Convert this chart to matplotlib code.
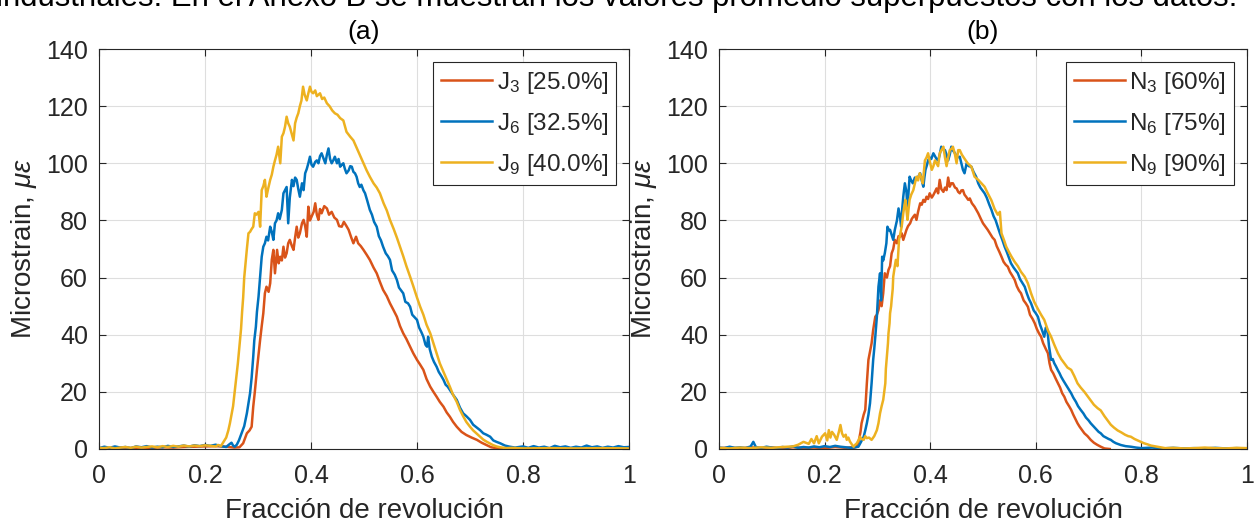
import matplotlib
matplotlib.use('Agg')
import matplotlib.pyplot as plt
from matplotlib.ticker import MultipleLocator, FuncFormatter

plt.rcParams['font.family'] = ['Liberation Sans', 'DejaVu Sans']
plt.rcParams['mathtext.fontset'] = 'custom'
plt.rcParams['mathtext.rm'] = 'Liberation Sans'
plt.rcParams['mathtext.it'] = 'Liberation Sans:italic'
plt.rcParams['mathtext.bf'] = 'Liberation Sans:bold'

# ---------------- panel (a): J series ----------------
j3_f = [0, 0.02, 0.04, 0.06, 0.08, 0.10, 0.12, 0.14, 0.16, 0.18, 0.20, 0.22, 0.24, 0.255,
        0.265, 0.272, 0.279, 0.284, 0.288, 0.291, 0.294, 0.298, 0.301, 0.304, 0.307, 0.310,
        0.313, 0.316, 0.320, 0.323, 0.326, 0.329, 0.332, 0.336, 0.339, 0.342, 0.345, 0.348,
        0.351, 0.354, 0.357, 0.360, 0.364, 0.367, 0.370, 0.373, 0.376, 0.379, 0.383, 0.386,
        0.389, 0.392, 0.395, 0.398, 0.401, 0.405, 0.408, 0.411, 0.414, 0.417, 0.420, 0.425,
        0.430, 0.434, 0.439, 0.444, 0.449, 0.453, 0.458, 0.462, 0.467, 0.471, 0.476, 0.480,
        0.485, 0.489, 0.494, 0.499, 0.505, 0.511, 0.518, 0.524, 0.530, 0.536, 0.543, 0.549,
        0.556, 0.562, 0.568, 0.574, 0.580, 0.587, 0.593, 0.600, 0.606, 0.612, 0.618, 0.625,
        0.631, 0.637, 0.643, 0.650, 0.656, 0.662, 0.668, 0.675, 0.684, 0.693, 0.703, 0.713,
        0.722, 0.731, 0.740, 0.750, 0.760]
j3_v = [0.3, 0.2, 0.4, 0.3, 0.5, 0.4, 0.6, 0.5, 0.7, 0.8, 0.9, 1.0, 0.8, 0.5,
        0.6, 2.0, 5.5, 6.5, 7.8, 14.8, 20, 27.7, 33, 38.2, 43, 47.5,
        54.5, 56.8, 55, 58, 66.2, 69.7, 61.5, 69.7, 65, 67.3, 66, 70.8,
        67, 68.5, 72, 73.2, 71, 69.7, 74, 77.8, 74, 75.5, 79, 80.2,
        78, 74.3, 84.8, 80, 81.3, 83, 86, 82, 80.2, 84, 82.5, 85,
        84.2, 82, 83, 81, 80.2, 78, 77.8, 79.5, 78, 76.7, 74, 72,
        74.3, 72, 71, 69.7, 68, 66.2, 63.5, 61.5, 58.5, 55.7, 53.5, 51,
        48.5, 46.3, 43, 40.5, 38.5, 35.8, 33.5, 31.2, 29.5, 27.7, 24.5, 21.8,
        20, 18.3, 16.5, 14.8, 12.8, 11.3, 9.5, 7.8, 6, 4.9, 4, 3.2,
        2.2, 1.4, 0.6, 0.3, 0.2]

j6_f = [0, 0.01, 0.02, 0.03, 0.04, 0.05, 0.06, 0.07, 0.08, 0.09, 0.10, 0.11, 0.12, 0.13,
        0.14, 0.15, 0.16, 0.17, 0.18, 0.19, 0.20, 0.21, 0.22, 0.23, 0.24, 0.245, 0.25, 0.253,
        0.256, 0.26, 0.264, 0.269, 0.274, 0.279, 0.282, 0.285, 0.288, 0.291, 0.293, 0.296,
        0.298, 0.301, 0.304, 0.307, 0.310, 0.313, 0.316, 0.319, 0.323, 0.326, 0.329, 0.332,
        0.335, 0.338, 0.341, 0.345, 0.348, 0.351, 0.354, 0.357, 0.360, 0.364, 0.367, 0.370,
        0.373, 0.376, 0.379, 0.383, 0.386, 0.389, 0.392, 0.395, 0.398, 0.401, 0.404, 0.408,
        0.411, 0.414, 0.417, 0.420, 0.424, 0.427, 0.430, 0.433, 0.436, 0.439, 0.442, 0.445,
        0.449, 0.452, 0.455, 0.458, 0.461, 0.464, 0.467, 0.471, 0.474, 0.477, 0.480, 0.483,
        0.486, 0.489, 0.492, 0.495, 0.499, 0.502, 0.506, 0.511, 0.515, 0.519, 0.524, 0.528,
        0.532, 0.536, 0.541, 0.545, 0.549, 0.553, 0.558, 0.562, 0.566, 0.570, 0.574, 0.578,
        0.583, 0.587, 0.591, 0.596, 0.600, 0.604, 0.608, 0.612, 0.616, 0.619, 0.621, 0.624,
        0.628, 0.632, 0.637, 0.641, 0.646, 0.650, 0.654, 0.658, 0.662, 0.668, 0.675, 0.681,
        0.687, 0.693, 0.700, 0.706, 0.713, 0.719, 0.725, 0.731, 0.738, 0.744, 0.750, 0.757,
        0.766, 0.775, 0.785, 0.80, 0.81, 0.82, 0.83, 0.84, 0.85, 0.86, 0.87, 0.88,
        0.89, 0.90, 0.91, 0.92, 0.93, 0.94, 0.95, 0.96, 0.97, 0.98, 0.99, 1.0]
j6_v = [0.3, 0.8, 0.4, 0.9, 0.5, 0.7, 0.3, 0.9, 0.6, 1.0, 0.5, 0.8, 0.6, 1.1,
        0.7, 0.9, 1.2, 0.8, 1.3, 1.0, 1.4, 1.1, 1.5, 1.0, 0.7, 1.5, 2.2, 1.2,
        0.8, 1.5, 3.0, 5.5, 8, 12.5, 16, 19.5, 25, 32.3, 38, 42.8,
        48, 53.3, 60.3, 67.3, 70.8, 72, 74.3, 73, 77.8, 76, 73.2, 79,
        80, 82.5, 80.5, 83.7, 89.5, 90.6, 91.7, 79, 88, 94.2, 92, 95,
        94.2, 91, 88.3, 93, 90.6, 96.5, 98, 100, 102.3, 99.5, 98.8, 100.5,
        101, 100, 102.5, 103.5, 101.5, 100, 103, 105.2, 101.5, 100, 101, 102.3,
        100, 101.5, 98.8, 99.5, 100, 98, 96.5, 97.5, 99, 98.8, 97, 96.5,
        95.3, 93, 91.7, 92.5, 90.5, 89.5, 87, 83.7, 82, 79.5, 77.8, 74.5,
        73, 70.8, 68.5, 67.5, 66.2, 62.5, 61, 59.2, 56.5, 55.5, 54.5, 51.5,
        51, 49.8, 47, 46, 45.2, 42.5, 41, 39.3, 36.5, 35.8, 39.3, 35,
        32.3, 30.5, 28.8, 27, 25.5, 24.2, 22.5, 21.8, 20.7, 19, 17.2, 14.5,
        12.5, 11.5, 10.2, 8.5, 7.5, 6.6, 5.5, 5, 4.3, 3, 2.5, 2,
        1.2, 0.8, 0.5, 0.9, 0.4, 1.0, 0.5, 0.8, 0.3, 1.1, 0.6, 0.9,
        0.4, 0.8, 0.5, 1.2, 0.6, 0.9, 0.4, 0.8, 0.5, 1.0, 0.6, 0.7]

j9_f = [0, 0.01, 0.02, 0.03, 0.04, 0.05, 0.06, 0.07, 0.08, 0.09, 0.10, 0.11, 0.12, 0.13,
        0.14, 0.15, 0.16, 0.17, 0.18, 0.19, 0.20, 0.21, 0.22, 0.225, 0.23, 0.235, 0.240, 0.244,
        0.247, 0.250, 0.253, 0.256, 0.259, 0.262, 0.265, 0.268, 0.270, 0.272, 0.274, 0.276,
        0.279, 0.282, 0.285, 0.288, 0.291, 0.294, 0.297, 0.301, 0.304, 0.307, 0.310, 0.313,
        0.316, 0.319, 0.323, 0.326, 0.329, 0.332, 0.335, 0.338, 0.342, 0.345, 0.348, 0.351,
        0.354, 0.357, 0.360, 0.364, 0.367, 0.370, 0.373, 0.376, 0.379, 0.382, 0.385, 0.388,
        0.392, 0.395, 0.398, 0.401, 0.404, 0.408, 0.411, 0.414, 0.417, 0.421, 0.425, 0.430,
        0.435, 0.440, 0.445, 0.450, 0.455, 0.461, 0.467, 0.474, 0.480, 0.486, 0.492, 0.499,
        0.505, 0.511, 0.518, 0.524, 0.530, 0.537, 0.543, 0.549, 0.556, 0.562, 0.568, 0.574,
        0.580, 0.587, 0.593, 0.600, 0.606, 0.612, 0.618, 0.625, 0.631, 0.637, 0.643, 0.650,
        0.656, 0.662, 0.668, 0.675, 0.681, 0.687, 0.693, 0.700, 0.706, 0.712, 0.719, 0.725,
        0.731, 0.737, 0.743, 0.750, 0.757, 0.769, 0.78, 0.80, 0.85, 0.90, 0.95, 1.0]
j9_v = [0.4, 0.3, 0.6, 0.2, 0.5, 0.7, 0.4, 0.8, 0.5, 0.7, 0.9, 0.6, 1.0, 0.7,
        1.1, 0.8, 1.2, 0.9, 1.2, 1.0, 1.3, 1.1, 0.9, 1.4, 1.0, 2.5, 4, 6.5,
        9, 12, 15, 20, 25, 30, 36, 42, 48, 53, 60, 64,
        70, 75.5, 76, 77, 77.8, 82.5, 82, 83, 77.8, 90.6, 92, 94.2,
        88.3, 91, 94.2, 96, 98.8, 101, 103, 105.8, 100, 109.3, 110.5, 112.8,
        116.3, 114, 112.8, 110, 108, 114, 116, 117.5, 120, 122, 126.8, 124,
        122, 124.5, 126.8, 125, 124.5, 125.5, 123.5, 124, 124.5, 122.5, 123, 121,
        120, 118.5, 117.5, 117, 115.8, 115, 111, 109.3, 108, 105.5, 103, 100,
        97.5, 95.3, 93, 91.5, 89.5, 86, 83.5, 80.2, 77, 74, 70.8, 67.5,
        64, 60.3, 57, 53, 49.8, 47, 43.5, 40.5, 37, 33.5, 30, 27,
        24.5, 21.8, 19, 16.5, 13.7, 11.5, 9.5, 7.8, 6.5, 5.5, 4.3, 3.3,
        2.6, 2, 1.4, 0.9, 0.6, 0.3, 0.4, 0.2, 0.3, 0.2, 0.3, 0.2]

# ---------------- panel (b): N series ----------------
n3_f = [0, 0.02, 0.04, 0.06, 0.08, 0.10, 0.12, 0.14, 0.16, 0.18, 0.20, 0.22, 0.24, 0.25,
        0.255, 0.261, 0.265, 0.268, 0.270, 0.274, 0.277, 0.280, 0.283, 0.286, 0.289, 0.292,
        0.296, 0.299, 0.302, 0.305, 0.308, 0.311, 0.314, 0.318, 0.321, 0.324, 0.327, 0.330,
        0.333, 0.337, 0.340, 0.343, 0.346, 0.349, 0.352, 0.355, 0.358, 0.362, 0.365, 0.368,
        0.371, 0.374, 0.377, 0.381, 0.384, 0.387, 0.390, 0.393, 0.396, 0.399, 0.403, 0.406,
        0.409, 0.412, 0.415, 0.418, 0.421, 0.425, 0.428, 0.431, 0.434, 0.437, 0.440, 0.443,
        0.447, 0.450, 0.453, 0.456, 0.459, 0.462, 0.465, 0.468, 0.472, 0.475, 0.479, 0.484,
        0.488, 0.491, 0.496, 0.500, 0.504, 0.509, 0.513, 0.518, 0.522, 0.526, 0.531, 0.535,
        0.539, 0.543, 0.547, 0.551, 0.556, 0.560, 0.564, 0.568, 0.572, 0.577, 0.581, 0.585,
        0.589, 0.594, 0.598, 0.602, 0.606, 0.610, 0.614, 0.619, 0.623, 0.626, 0.629, 0.633,
        0.638, 0.642, 0.646, 0.650, 0.654, 0.658, 0.663, 0.667, 0.671, 0.675, 0.679, 0.683,
        0.688, 0.692, 0.698, 0.704, 0.710, 0.716, 0.723, 0.730, 0.740]
n3_v = [0.3, 0.5, 0.2, 0.6, 0.3, 0.5, 0.2, 0.6, 0.4, 0.5, 0.3, 0.7, 0.4, 0.6,
        0.4, 0.8, 3, 6, 9, 12, 13.7, 23, 31.2, 34, 37, 41.7,
        46.3, 47, 48.6, 52, 50, 54.5, 61.5, 60, 62.7, 64, 68.5, 70,
        73.2, 72, 74.5, 74.3, 75.5, 73.2, 75, 76.7, 78, 79, 80.5, 81.3,
        82, 80.2, 83, 86, 85.5, 87.2, 86.5, 88.3, 87.5, 89.5, 88, 88.9,
        90, 91.2, 89.5, 94.2, 91, 90, 91.5, 90.6, 95, 91.8, 93, 93,
        91.5, 91.2, 90, 89.5, 90.5, 90.6, 89, 88.3, 87.2, 87.7, 86, 84.8,
        83.5, 82.5, 80.5, 79, 78, 76.7, 75.5, 74, 73.2, 71, 69, 67.3,
        65.5, 64.5, 63.8, 62, 60.5, 59.2, 57, 55.5, 54.5, 52, 51, 49.8,
        47, 45.5, 44, 42, 40.5, 39.3, 37, 35, 33.5, 30, 27.7, 26.5,
        24.5, 23, 21.5, 19.5, 18.3, 16.5, 15, 13.7, 12, 10.5, 9, 7.8,
        6.5, 5.5, 4.5, 3.2, 2.2, 1.5, 0.8, 0.2, 0]

n6_f = [0, 0.01, 0.02, 0.03, 0.04, 0.05, 0.06, 0.065, 0.07, 0.08, 0.09, 0.10, 0.11, 0.12,
        0.13, 0.14, 0.15, 0.16, 0.17, 0.18, 0.19, 0.20, 0.21, 0.22, 0.23, 0.24, 0.25, 0.258,
        0.264, 0.269, 0.274, 0.277, 0.280, 0.283, 0.286, 0.289, 0.292, 0.294, 0.296, 0.299,
        0.302, 0.305, 0.307, 0.309, 0.311, 0.314, 0.317, 0.319, 0.322, 0.324, 0.327, 0.330,
        0.333, 0.337, 0.340, 0.343, 0.345, 0.347, 0.349, 0.352, 0.355, 0.357, 0.359, 0.361,
        0.364, 0.367, 0.371, 0.374, 0.378, 0.381, 0.384, 0.387, 0.389, 0.391, 0.394, 0.396,
        0.399, 0.402, 0.406, 0.409, 0.412, 0.415, 0.418, 0.421, 0.424, 0.428, 0.431, 0.434,
        0.437, 0.440, 0.443, 0.447, 0.451, 0.456, 0.459, 0.462, 0.465, 0.469, 0.473, 0.478,
        0.482, 0.487, 0.491, 0.495, 0.499, 0.503, 0.507, 0.512, 0.516, 0.520, 0.524, 0.528,
        0.532, 0.537, 0.541, 0.545, 0.549, 0.553, 0.558, 0.562, 0.566, 0.570, 0.575, 0.579,
        0.583, 0.587, 0.591, 0.596, 0.600, 0.604, 0.608, 0.612, 0.616, 0.619, 0.622, 0.625,
        0.629, 0.632, 0.635, 0.638, 0.642, 0.645, 0.648, 0.652, 0.657, 0.662, 0.667, 0.671,
        0.676, 0.680, 0.685, 0.690, 0.695, 0.700, 0.704, 0.709, 0.714, 0.719, 0.723, 0.728,
        0.733, 0.738, 0.742, 0.747, 0.752, 0.761, 0.770, 0.780, 0.79, 0.80, 0.82, 0.84,
        0.86, 0.88, 0.90, 0.92, 0.94, 0.96, 0.98, 1.0]
n6_v = [0.5, 0.3, 0.8, 0.4, 0.6, 0.3, 0.9, 2.5, 0.6, 0.4, 0.8, 0.5, 0.3, 0.7,
        0.5, 0.9, 0.4, 0.7, 0.5, 0.9, 0.6, 1.0, 0.7, 1.1, 0.8, 0.6, 0.4, 0.6,
        0.8, 2.5, 4.3, 6.5, 9, 12, 16, 23, 31.2, 35, 39.3, 46.3,
        56.8, 61.5, 52, 67.3, 66, 68.5, 72, 77.8, 76.5, 76.7, 75, 73.2,
        76.7, 80, 84.2, 81, 77.8, 84, 88.3, 93, 90, 83.7, 90, 95.3,
        94, 93, 95, 94.2, 95.5, 96.5, 94, 91.8, 95, 97.7, 99.5, 101,
        102, 101.5, 103.5, 102.5, 101.5, 101, 103, 105.8, 105, 104.6, 103, 101,
        103, 105.8, 104.5, 103.5, 102, 102.3, 100, 97.7, 96.5, 100, 99, 98.8,
        97, 95.3, 93, 91.5, 90.5, 89.5, 88, 85.5, 83.7, 81.5, 80, 77.8,
        75.5, 73, 70.8, 69, 67, 65, 63.5, 62.5, 61.5, 59.5, 58, 56.8,
        54.5, 52.5, 51, 48.5, 47.5, 46.3, 43.5, 41.5, 39.3, 42.5, 41.7, 36,
        31.2, 31.5, 30, 29, 27.5, 26.5, 25.3, 24, 22.5, 21, 19.5, 18,
        16.5, 15, 13.7, 12.5, 11, 10, 9, 8, 7, 6, 5.5, 4.5,
        4, 3.5, 3.2, 2.5, 2, 1.4, 1, 0.8, 0.5, 0.3, 0.5, 0.2,
        0.4, 0.2, 0.3, 0.2, 0.4, 0.2, 0.3, 0.2]

n9_f = [0, 0.02, 0.04, 0.06, 0.08, 0.10, 0.12, 0.14, 0.15, 0.16, 0.17, 0.175, 0.18, 0.185,
        0.189, 0.195, 0.201, 0.205, 0.208, 0.211, 0.214, 0.218, 0.223, 0.227, 0.230, 0.233,
        0.236, 0.240, 0.242, 0.245, 0.248, 0.252, 0.255, 0.258, 0.261, 0.264, 0.267, 0.270,
        0.274, 0.277, 0.280, 0.284, 0.289, 0.294, 0.299, 0.302, 0.305, 0.308, 0.311, 0.313,
        0.315, 0.316, 0.318, 0.320, 0.321, 0.323, 0.324, 0.326, 0.327, 0.329, 0.330, 0.333,
        0.335, 0.338, 0.341, 0.343, 0.346, 0.349, 0.351, 0.353, 0.357, 0.359, 0.361, 0.364,
        0.368, 0.371, 0.374, 0.377, 0.380, 0.383, 0.386, 0.388, 0.390, 0.393, 0.396, 0.400,
        0.403, 0.406, 0.409, 0.412, 0.415, 0.418, 0.421, 0.425, 0.428, 0.431, 0.434, 0.437,
        0.440, 0.443, 0.447, 0.450, 0.453, 0.456, 0.460, 0.465, 0.471, 0.478, 0.484, 0.491,
        0.497, 0.503, 0.509, 0.516, 0.522, 0.528, 0.532, 0.535, 0.540, 0.544, 0.549, 0.554,
        0.560, 0.566, 0.572, 0.579, 0.585, 0.591, 0.597, 0.604, 0.610, 0.616, 0.623, 0.629,
        0.635, 0.642, 0.648, 0.654, 0.660, 0.667, 0.673, 0.679, 0.685, 0.692, 0.698, 0.704,
        0.710, 0.717, 0.723, 0.730, 0.736, 0.742, 0.748, 0.755, 0.762, 0.769, 0.775, 0.780,
        0.787, 0.793, 0.800, 0.805, 0.812, 0.818, 0.824, 0.830, 0.838, 0.845, 0.86, 0.88,
        0.90, 0.92, 0.94, 0.96, 0.98, 1.0]
n9_v = [0.4, 0.2, 0.5, 0.3, 0.6, 0.4, 0.7, 0.9, 1.5, 2.5, 1.8, 3.5, 2.0, 4.5,
        2, 4.3, 5.5, 3, 6.6, 4, 6, 5, 3.2, 6, 8.4, 5.5,
        4.3, 5, 3.2, 4, 2.6, 1.5, 0.8, 1.5, 2, 3, 4.3, 3.5,
        3.2, 4.5, 3.8, 4, 3.2, 4.5, 6.6, 9, 12.5, 15, 17.2, 20,
        23, 28, 32.3, 37, 40.5, 44, 47.5, 50, 52.2, 56, 60.3, 64,
        66.2, 64, 73.2, 75, 77.8, 82.5, 85, 87.2, 80.2, 84, 87.2, 89,
        90.6, 93, 95.3, 94, 96.5, 95, 93, 97, 101, 102, 103.5, 100,
        97.7, 99, 101, 100, 99, 103.5, 104.5, 105.8, 102, 99, 102, 104.6,
        105, 105.8, 103, 100, 104.6, 104.6, 103, 101.6, 100, 98.8, 95.3, 94.2,
        93, 91.8, 89.5, 87, 84, 82, 83, 75.5, 73, 70.8, 69, 67.3,
        65.5, 64, 62, 60.3, 58, 54.5, 51.5, 49, 47, 45.2, 41.5, 39.3,
        36.5, 33.5, 31.5, 30, 28.5, 27.7, 25.5, 23, 21.5, 20, 18.5, 17,
        15.5, 14.3, 13.5, 11.5, 10, 8.5, 7.5, 6.5, 5.8, 5, 4.5, 4.3,
        3.5, 3, 2.4, 2, 1.6, 1.2, 1, 0.8, 0.5, 0.3, 0.4, 0.2,
        0.3, 0.5, 0.3, 0.2, 0.4, 0.3]

labels_a = ['J$_3$ [25.0%]', 'J$_6$ [32.5%]', 'J$_9$ [40.0%]']
labels_b = ['N$_3$ [60%]', 'N$_6$ [75%]', 'N$_9$ [90%]']
series_colors = ['#D95319', '#0072BD', '#EDB120']
ink = '#262626'

fig = plt.figure(figsize=(12.54, 5.23), dpi=100)
W, H = 1254, 523
ax_a = fig.add_axes([99 / W, 74 / H, 530 / W, 400 / H])
ax_b = fig.add_axes([719 / W, 74 / H, 528 / W, 400 / H])

fig.text(617 / W, 1 - 6 / H,
         'industriales. En el Anexo B se muestran los valores promedio superpuestos con los datos.',
         ha='center', va='baseline', fontsize=22.4, color='black')


def draw_panel(ax, curves, labels, title):
    for (fx, vy), lab, col in zip(curves, labels, series_colors):
        ax.plot(fx, vy, color=col, lw=1.8, label=lab)
    ax.set_xlim(0, 1)
    ax.set_ylim(0, 140)
    ax.xaxis.set_major_locator(MultipleLocator(0.2))
    ax.yaxis.set_major_locator(MultipleLocator(20))
    ax.xaxis.set_major_formatter(FuncFormatter(lambda v, p: f'{v:g}'))
    ax.grid(True, color='#dedede', lw=0.8)
    ax.set_axisbelow(True)
    ax.tick_params(direction='in', top=True, right=True, length=5, width=0.8,
                   colors=ink, labelsize=18)
    ax.tick_params(axis='x', pad=11)
    ax.tick_params(axis='y', pad=8)
    for s in ax.spines.values():
        s.set_color(ink)
        s.set_linewidth(0.8)
    ax.set_xlabel('Fracción de revolución', fontsize=20, color=ink, labelpad=7)
    ax.set_ylabel(r'Microstrain, $\mu\epsilon$', fontsize=20, color=ink, labelpad=5)
    ax.set_title(title, fontsize=19, color='black', pad=7)
    leg = ax.legend(loc='upper right', fontsize=17.5, frameon=True, fancybox=False,
                    edgecolor=ink, framealpha=1, borderaxespad=0.55,
                    handlelength=2.1, handletextpad=0.2, labelspacing=0.62,
                    borderpad=0.3)
    leg.get_frame().set_linewidth(0.8)
    for t in leg.get_texts():
        t.set_color(ink)


draw_panel(ax_a, [(j3_f, j3_v), (j6_f, j6_v), (j9_f, j9_v)], labels_a, '(a)')
draw_panel(ax_b, [(n3_f, n3_v), (n6_f, n6_v), (n9_f, n9_v)], labels_b, '(b)')

fig.savefig('out.png', dpi=100)
